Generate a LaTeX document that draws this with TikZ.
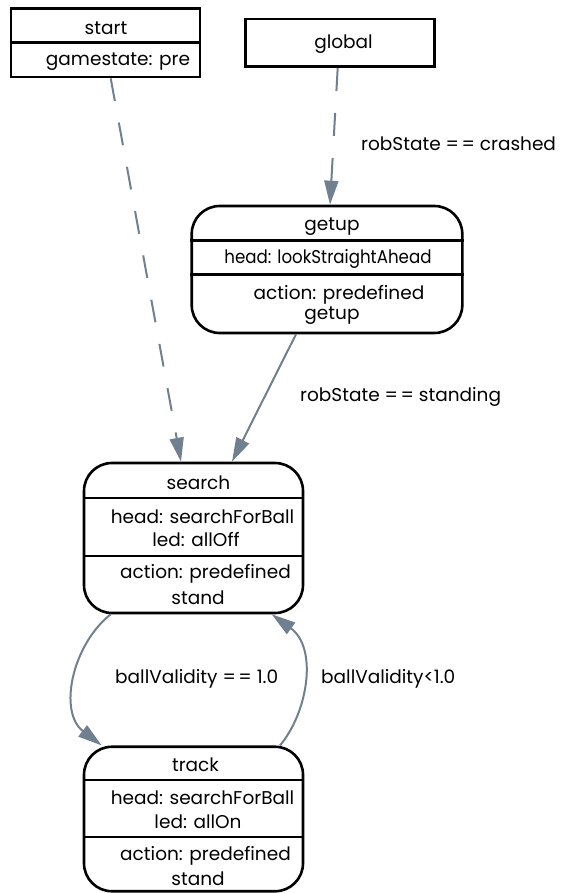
\documentclass[tikz,border=0pt]{standalone}
\usepackage{fontspec}
\setmainfont{Poppins}
\usetikzlibrary{arrows.meta}
\definecolor{edgegray}{HTML}{708090}
% equality sign pair with a little air in between
\newcommand{\eqeq}{=\kern2.5pt=}

\begin{document}
\begin{tikzpicture}[x=1pt,y=-1pt,
  font=\fontsize{18.5}{22}\selectfont,
  plainbox/.style={draw, line width=2.6pt, inner sep=0pt},
  statebox/.style={plainbox, rounded corners=28pt},
  divider/.style={line width=2.6pt},
  txt/.style={inner sep=0pt, anchor=center},
  lbl/.style={inner sep=0pt, anchor=west},
  flow/.style={edgegray, line width=2pt, -{Triangle[length=24pt,width=14pt]}},
  dashflow/.style={flow, dash pattern=on 23pt off 22pt}]

\useasboundingbox (0,0) rectangle (562,893);

% ---- start ----
\node[plainbox, minimum width=189pt, minimum height=68.7pt] (start) at (105.3,42.7) {};
\draw[divider] (start.west |- 0,42.7) -- (start.east |- 0,42.7);
\node[txt] (startT) at (106,28) {start};
\node[txt] (startG) at (118,62) {gamestate: pre};

% ---- global ----
\node[plainbox, minimum width=188.6pt, minimum height=47.7pt] (global) at (340,42.9) {};
\node[txt] (globalT) at (343.5,44) {global};

% ---- getup ----
\node[statebox, minimum width=270.6pt, minimum height=127pt] (getup) at (327,269.5) {};
\draw[divider] (getup.west |- 0,240.7) -- (getup.east |- 0,240.7);
\draw[divider] (getup.west |- 0,274.3) -- (getup.east |- 0,274.3);
\node[txt] (getupT) at (332,226.5) {getup};
\node[txt] (getupH) at (328,259) {\scalebox{0.9}[1]{head: lookStraightAhead}};
\node[txt] (getupA1) at (339,295) {action: predefined};
\node[txt] (getupA2) at (332,316) {getup};

% ---- search ----
\node[statebox, minimum width=219pt, minimum height=150pt] (search) at (193.5,538) {};
\draw[divider] (search.west |- 0,498) -- (search.east |- 0,498);
\draw[divider] (search.west |- 0,556) -- (search.east |- 0,556);
\node[txt] (searchT) at (198.5,483) {search};
\node[txt] (searchH) at (202.5,517) {head: searchForBall};
\node[txt] (searchL) at (196,540) {led: allOff};
\node[txt] (searchA1) at (205.5,574) {action: predefined};
\node[txt] (searchA2) at (198,598) {stand};

% ---- track ----
\node[statebox, minimum width=219pt, minimum height=144.5pt] (track) at (193.5,819) {};
\draw[divider] (track.west |- 0,780) -- (track.east |- 0,780);
\draw[divider] (track.west |- 0,837) -- (track.east |- 0,837);
\node[txt] (trackT) at (195.5,765) {track};
\node[txt] (trackH) at (202.5,798) {head: searchForBall};
\node[txt] (trackL) at (198,822) {led: allOn};
\node[txt] (trackA1) at (205.5,856) {action: predefined};
\node[txt] (trackA2) at (198,879) {stand};

% ---- transitions ----
\draw[dashflow] ([xshift=5.4pt]start.south) -- ([xshift=-12.5pt]search.north);
\draw[dashflow] ([xshift=-2.3pt]global.south) -- ([xshift=3pt]getup.north);
\draw[flow] ([xshift=-31pt]getup.south) -- ([xshift=38.5pt]search.north);
\draw[flow] ([xshift=-82.8pt]search.south) .. controls (72,645) and (58,712) .. ([xshift=-91.8pt]track.north);
\draw[flow] ([xshift=86.5pt]track.north) .. controls (308,712) and (318,648) .. ([xshift=78.2pt]search.south);

% ---- guards ----
\node[lbl] (gCrashed) at (361,144) {robState \eqeq{} crashed};
\node[lbl] (gStanding) at (300,397) {robState \eqeq{} standing};
\node[lbl] (gFound) at (115,679) {ballValidity \eqeq{} 1.0};
\node[lbl] (gLost) at (321,679) {ballValidity<1.0};

\end{tikzpicture}
\end{document}
